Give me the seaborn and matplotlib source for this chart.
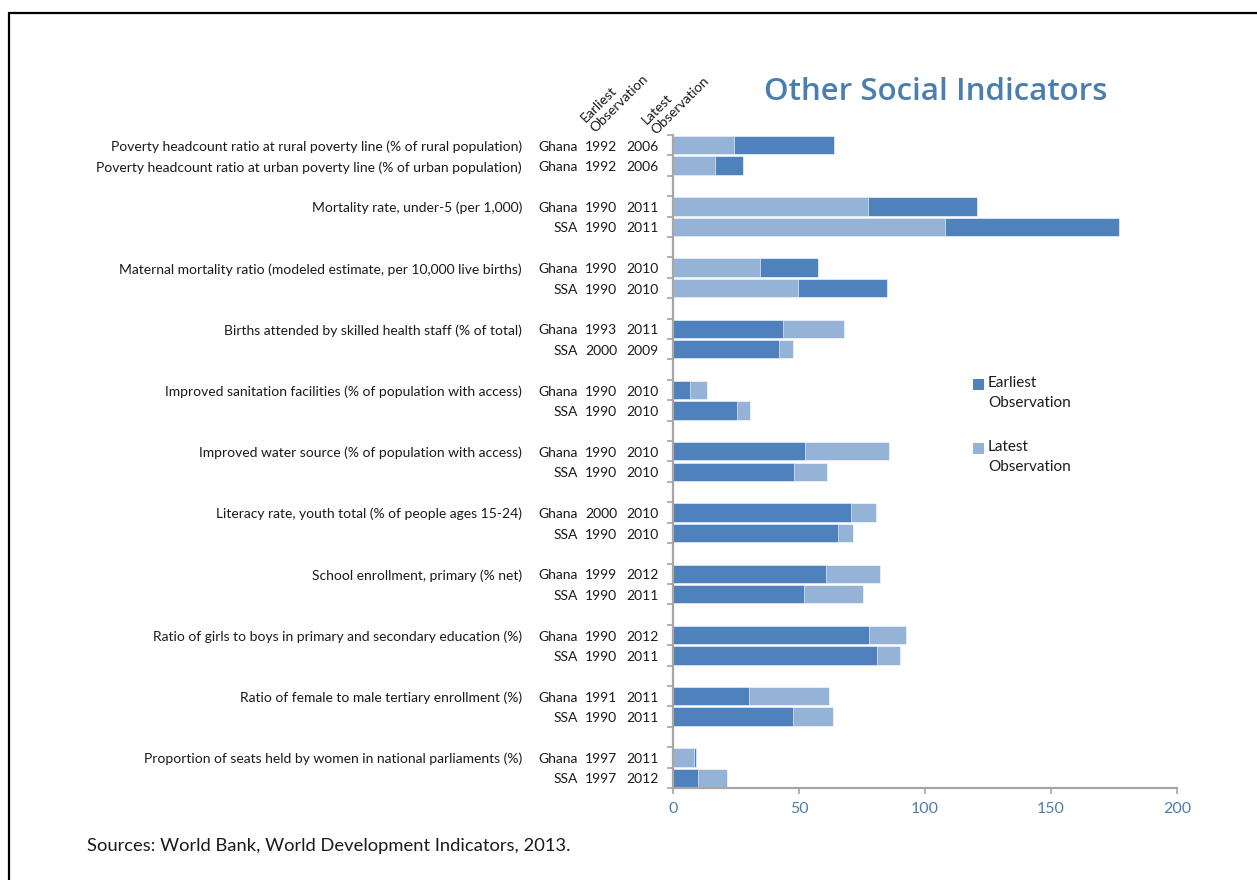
import numpy as np
import pandas as pd
import matplotlib
matplotlib.use("Agg")
import matplotlib.pyplot as plt
import matplotlib.transforms as mtransforms
from matplotlib.lines import Line2D
from matplotlib.patches import Rectangle
import seaborn as sns

# ---------------------------------------------------------------- data
indicators = [
    "Poverty headcount ratio at rural poverty line (% of rural population)",
    "Poverty headcount ratio at urban poverty line (% of urban population)",
    "Mortality rate, under-5 (per 1,000)", "",
    "Maternal mortality ratio (modeled estimate, per 10,000 live births)", "",
    "Births attended by skilled health staff (% of total)", "",
    "Improved sanitation facilities (% of population with access)", "",
    "Improved water source (% of population with access)", "",
    "Literacy rate, youth total (% of people ages 15-24)", "",
    "School enrollment, primary (% net)", "",
    "Ratio of girls to boys in primary and secondary education (%)", "",
    "Ratio of female to male tertiary enrollment (%)", "",
    "Proportion of seats held by women in national parliaments (%)", "",
]
groups = [0, 0, 1, 1, 2, 2, 3, 3, 4, 4, 5, 5, 6, 6, 7, 7, 8, 8, 9, 9, 10, 10]
regions = ["Ghana", "Ghana", "Ghana", "SSA", "Ghana", "SSA", "Ghana", "SSA",
           "Ghana", "SSA", "Ghana", "SSA", "Ghana", "SSA", "Ghana", "SSA",
           "Ghana", "SSA", "Ghana", "SSA", "Ghana", "SSA"]
earliest_year = [1992, 1992, 1990, 1990, 1990, 1990, 1993, 2000, 1990, 1990,
                 1990, 1990, 2000, 1990, 1999, 1990, 1990, 1990, 1991, 1990,
                 1997, 1997]
latest_year = [2006, 2006, 2011, 2011, 2010, 2010, 2011, 2009, 2010, 2010,
               2010, 2010, 2010, 2010, 2012, 2011, 2012, 2011, 2011, 2011,
               2011, 2012]
earliest = [63.9, 27.8, 120.6, 177.0, 57.5, 84.9, 43.7, 42.1, 6.7, 25.5,
            52.5, 48.0, 70.6, 65.5, 60.6, 52.0, 77.9, 81.0, 30.3, 47.8,
            9.0, 10.1]
latest = [24.2, 16.7, 77.4, 107.9, 34.5, 49.6, 68.0, 47.6, 13.6, 30.6,
          85.6, 61.0, 80.6, 71.6, 82.0, 75.5, 92.6, 90.0, 61.9, 63.3,
          8.2, 21.4]
x_ticks = [0, 50, 100, 150, 200]
series_names = ["Earliest", "Latest"]

# ---------------------------------------------------------------- styling
DARK = "#4f81bd"
LIGHT = "#95b3d7"
AXIS_GREY = "#a6a6a6"
TITLE_BLUE = "#4a7eb0"
TEXT = "#1a1a1a"
FONT = ["Lato", "DejaVu Sans"]

sns.set_theme(style="white")
plt.rcParams["font.family"] = FONT

# category slots: one per row, with an empty slot between indicator groups
slots = []
row_slot = []
for i, g in enumerate(groups):
    if i > 0 and g != groups[i - 1]:
        slots.append(f"gap{g}")
    row_slot.append(f"row{i}")
    slots.append(f"row{i}")
slot_index = {s: k for k, s in enumerate(slots)}

# for each row the longer bar sits behind and the shorter one in front
back_rows, front_rows = [], []
for i, s in enumerate(row_slot):
    e, l = earliest[i], latest[i]
    if e >= l:
        back_rows.append((s, e, "Earliest"))
        front_rows.append((s, l, "Latest"))
    else:
        back_rows.append((s, l, "Latest"))
        front_rows.append((s, e, "Earliest"))
back_df = pd.DataFrame(back_rows, columns=["slot", "value", "series"])
front_df = pd.DataFrame(front_rows, columns=["slot", "value", "series"])

W, H, DPI = 1257, 880, 100
fig = plt.figure(figsize=(W / DPI, H / DPI), dpi=DPI)
fig.patch.set_facecolor("white")

ax_left, ax_right = 673 / W, 1177 / W
ax_top, ax_bottom = 1 - 135 / H, 1 - 788 / H
ax = fig.add_axes([ax_left, ax_bottom, ax_right - ax_left, ax_top - ax_bottom])

palette = dict(zip(series_names, [DARK, LIGHT]))
for df in (back_df, front_df):
    sns.barplot(data=df, x="value", y="slot", hue="series",
                hue_order=series_names, palette=palette, order=slots,
                orient="h", dodge=False, width=0.9, errorbar=None,
                legend=False, edgecolor="white", linewidth=0.4,
                saturation=1, ax=ax)

n = len(slots)
ax.set_ylim(n - 0.5, -0.5)
ax.set_xlim(0, 200)
ax.set_xticks(x_ticks)
ax.set_xticklabels([str(t) for t in x_ticks])
ax.set_yticks(np.arange(-0.5, n, 1.0))
ax.set_yticklabels([])
ax.set_xlabel("")
ax.set_ylabel("")
for side in ("top", "right"):
    ax.spines[side].set_visible(False)
for side in ("left", "bottom"):
    ax.spines[side].set_visible(True)
    ax.spines[side].set_color(AXIS_GREY)
    ax.spines[side].set_linewidth(1.6)
ax.tick_params(axis="both", which="major", direction="out", length=4,
               width=1.2, color=AXIS_GREY, left=True, bottom=True)
ax.tick_params(axis="x", labelsize=11.5, labelcolor=TITLE_BLUE, pad=6)
ax.grid(False)

# row labels: indicator name, region, earliest and latest year
LBL = 10
trans = mtransforms.blended_transform_factory(fig.transFigure, ax.transData)
for i, s in enumerate(row_slot):
    y = slot_index[s] + 0.08
    if indicators[i]:
        ax.text(522 / W, y, indicators[i], transform=trans, ha="right",
                va="center", fontsize=LBL, color=TEXT, clip_on=False)
    ax.text(578 / W, y, regions[i], transform=trans, ha="right",
            va="center", fontsize=LBL, color=TEXT, clip_on=False)
    ax.text(601 / W, y, str(earliest_year[i]), transform=trans, ha="center",
            va="center", fontsize=LBL, color=TEXT, clip_on=False)
    ax.text(642 / W, y, str(latest_year[i]), transform=trans, ha="center",
            va="center", fontsize=LBL, color=TEXT, clip_on=False)

# rotated column headings above the year columns
fig.text(597 / W, 1 - 134 / H, "Earliest\nObservation", rotation=45,
         rotation_mode="anchor", ha="left", va="bottom", fontsize=10,
         color=TEXT, linespacing=1.2)
fig.text(658 / W, 1 - 136 / H, "Latest\nObservation", rotation=45,
         rotation_mode="anchor", ha="left", va="bottom", fontsize=10,
         color=TEXT, linespacing=1.2)

# title
fig.text(936 / W, 1 - 92 / H, "Other Social Indicators", ha="center",
         va="center", fontsize=22.5, fontweight="semibold", color=TITLE_BLUE,
         family=["Open Sans", "DejaVu Sans"])

# legend
for name, col, ytop in [("Earliest\nObservation", DARK, 379),
                        ("Latest\nObservation", LIGHT, 443)]:
    fig.patches.append(Rectangle((973 / W, 1 - (ytop + 11) / H), 11 / W, 11 / H,
                                 transform=fig.transFigure, facecolor=col,
                                 edgecolor="none"))
    fig.text(988 / W, 1 - (ytop - 3) / H, name, ha="left", va="top",
             fontsize=11, color=TEXT, linespacing=1.55)

# source note
fig.text(87 / W, 1 - 846 / H,
         "Sources: World Bank, World Development Indicators, 2013.",
         ha="left", va="center", fontsize=13.2, color=TEXT)

# frame lines along the top and left edges
fig.lines.append(Line2D([9 / W, 1.0], [1 - 13 / H, 1 - 13 / H],
                        transform=fig.transFigure, color="black", lw=1.6))
fig.lines.append(Line2D([9 / W, 9 / W], [1 - 13 / H, 0.0],
                        transform=fig.transFigure, color="black", lw=1.6))

fig.savefig("out.png", dpi=DPI, facecolor="white")
